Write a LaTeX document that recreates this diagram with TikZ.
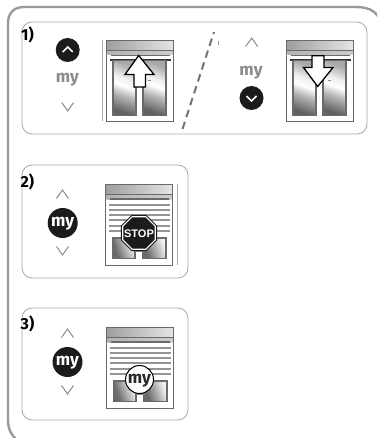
\documentclass[tikz,border=0pt]{standalone}
\usepackage{fontspec}
\setmainfont{Fira Sans}
\newfontfamily\stopfont{Liberation Sans}
\usetikzlibrary{shapes.geometric,arrows.meta}
\definecolor{frameg}{HTML}{9A9A9A}
\definecolor{panelg}{HTML}{A8A8A8}
\definecolor{wing}{HTML}{6A6A6A}
\definecolor{btn}{HTML}{1C1A1B}
\definecolor{mytxt}{HTML}{8C8C8C}
\pgfdeclareverticalshading{panefill}{100bp}{
  color(0bp)=(black!62); color(25bp)=(black!62); color(42bp)=(black!28);
  color(52bp)=(white); color(60bp)=(black!6); color(75bp)=(black!34); color(100bp)=(black!34)}
\pgfdeclarehorizontalshading{lowpane}{100bp}{
  color(0bp)=(black!62); color(30bp)=(black!58); color(62bp)=(black!18); color(72bp)=(black!5); color(100bp)=(black!5)}
\tikzset{
  x=1pt,y=-1pt,
  panel/.style={draw=panelg,line width=0.8pt,rounded corners=10pt,fill=white},
  chev/.style={draw=#1,line width=1pt,line cap=butt,line join=miter},
  chev/.default=mytxt,
  btncirc/.style={circle,fill=btn,draw=none,inner sep=0pt},
  mygray/.style={font=\fontsize{17}{17}\selectfont\bfseries,text=mytxt,inner sep=0pt},
  mywhite/.style={font=\fontsize{17}{17}\selectfont\bfseries,text=white,inner sep=0pt},
  numlabel/.style={font=\fontsize{16}{16}\selectfont\bfseries,text=black,inner sep=0pt,anchor=west},
  sep/.style={draw=panelg,line width=0.6pt},
  panesh/.style={draw=wing,line width=1.2pt,shading=panefill,shading angle=340},
  panelow/.style={draw=wing,line width=1.2pt,shading=lowpane,shading angle=20},
  bigarrow/.style={draw=black,line width=1.3pt,fill=white,line join=miter},
  slat/.style={draw=black!42,line width=2pt},
}
\newcommand{\winframe}[2]{%
  \fill[white] (#1,#2) rectangle ++(67,81);
  \shade[left color=black!38,right color=black!10] (#1,#2) rectangle ++(67,10);
  \draw[wing,line width=1.3pt] (#1,#2) rectangle ++(67,81);
  \shade[left color=black!30,right color=black!20] (#1+1,#2+10) rectangle ++(65,4.5);
  \draw[wing,line width=0.6pt] (#1,#2+10) -- ++(67,0);
}
\newcommand{\winopen}[2]{%
  \winframe{#1}{#2}
  \draw[wing,line width=1.3pt] (#1+4,#2+15) -- ++(59,0);
  \draw[black!80,line width=1.2pt] (#1+3,#2+19.5) -- ++(61,0);
  \path[panesh] (#1+6.5,#2+20) rectangle ++(23,55);
  \path[panesh] (#1+36.5,#2+20) rectangle ++(23,55);
  \draw[black!45,line width=0.8pt] (#1+41,#2+40) -- ++(3.5,0);
}
\newcommand{\winclosed}[2]{%
  \winframe{#1}{#2}
  \draw[wing,line width=2pt] (#1+4,#2+14.5) -- ++(59,0);
  \foreach \d in {20,25.3,30.6,35.9,41.2,46.5} {\draw[slat] (#1+3,#2+\d) -- ++(61,0);}
  \path[panelow] (#1+7.5,#2+53.5) -- ++(22,0) -- ++(0,20.5) -- ++(-22,0) -- cycle;
  \path[panelow] (#1+37.5,#2+53.5) -- ++(23,0) -- ++(0,20.5) -- ++(-23,0) -- cycle;
  \fill[black!50] (#1+29,#2+53) rectangle ++(9,14);
}
\newcommand{\chevup}[2]{\draw[chev] (#1-6,#2+4.5) -- (#1,#2-4) -- (#1+6,#2+4.5);}
\newcommand{\chevdn}[2]{\draw[chev] (#1-6,#2-4.5) -- (#1,#2+4) -- (#1+6,#2-4.5);}
\begin{document}
\begin{tikzpicture}
\useasboundingbox (0,0) rectangle (377,438);
\clip (0,0) rectangle (377,438);
\fill[white] (0,0) rectangle (377,438);
% outer frame
\draw[frameg,line width=2.4pt] (385,30) .. controls (378,12) and (372,7) .. (355,7) -- (24,7) .. controls (14,7) and (8,13) .. (8,23) -- (8,420) .. controls (8,430) and (12,436) .. (18,441);
% panels
\draw[panel] (22,22) rectangle (367,134);
\draw[panel] (22,165) rectangle (188,278);
\draw[panel] (22,308) rectangle (188,420);
% labels
\node[numlabel] (n1) at (21,35) {1)};
\node[numlabel] (n2) at (20.5,182) {2)};
\node[numlabel] (n3) at (20.5,324) {3)};
% panel 1 left
\node[btncirc,minimum size=24pt] (b1) at (67.7,50) {};
\draw[white,line width=1.5pt] (62.7,52) -- (67.7,47) -- (72.7,52);
\node[mygray] (my1) at (67.5,79.5) {my};
\chevdn{67.7}{107}
\draw[sep] (102,40) -- (102,121);
\winopen{106.5}{40.5}
\draw[bigarrow] (138.7,55.5) -- (154,74.5) -- (145.5,74.5) -- (145.5,87) -- (134,87) -- (134,74.5) -- (125,74.5) -- cycle;
% dashed divider
\draw[black!55,line width=2pt,dash pattern=on 7.5pt off 5pt] (182.5,129) -- (214,32);
\draw[black!40,line width=0.8pt] (218,41) -- (218,45);
% panel 1 right
\chevup{251.7}{42}
\node[mygray] (my2) at (251,72.5) {my};
\node[btncirc,minimum size=24pt] (b2) at (251.5,98) {};
\draw[white,line width=1.5pt] (246.5,96) -- (251.5,101) -- (256.5,96);
\winopen{286.5}{40.5}
\draw[bigarrow] (317.7,86.5) -- (303.5,67.5) -- (312,67.5) -- (312,55.7) -- (324,55.7) -- (324,67.5) -- (333,67.5) -- cycle;
% panel 2
\chevup{62.5}{194}
\node[btncirc,minimum size=30pt] (b3) at (62.7,223) {};
\node[mywhite] (my3) at (62.7,224) {my};
\chevdn{62.5}{251}
\winclosed{105.5}{184.5}
\draw[sep] (177,184) -- (177,265);
\node[regular polygon,regular polygon sides=8,minimum size=39pt,inner sep=0pt,fill=btn,draw=none] (oct0) at (139,233) {};
\node[regular polygon,regular polygon sides=8,minimum size=36.5pt,inner sep=0pt,fill=white,draw=none] (oct1) at (139,233) {};
\node[regular polygon,regular polygon sides=8,minimum size=34pt,inner sep=0pt,fill=btn,draw=none] (oct2) at (139,233) {};
\node[font=\stopfont\fontsize{11}{11}\selectfont\bfseries,text=white,inner sep=0pt] (stop) at (139,233.5) {STOP};
% panel 3
\chevup{67.5}{333}
\node[btncirc,minimum size=30pt] (b4) at (67.5,362) {};
\node[mywhite] (my4) at (67.5,363) {my};
\chevdn{67.5}{390}
\winclosed{106.5}{327.5}
\node[circle,draw=black,line width=1pt,fill=white,minimum size=28pt,inner sep=0pt] (c5) at (139.5,379.5) {};
\node[font=\fontsize{17}{17}\selectfont\bfseries,text=black!85,inner sep=0pt] (my5) at (139.5,381) {my};
\end{tikzpicture}
\end{document}
